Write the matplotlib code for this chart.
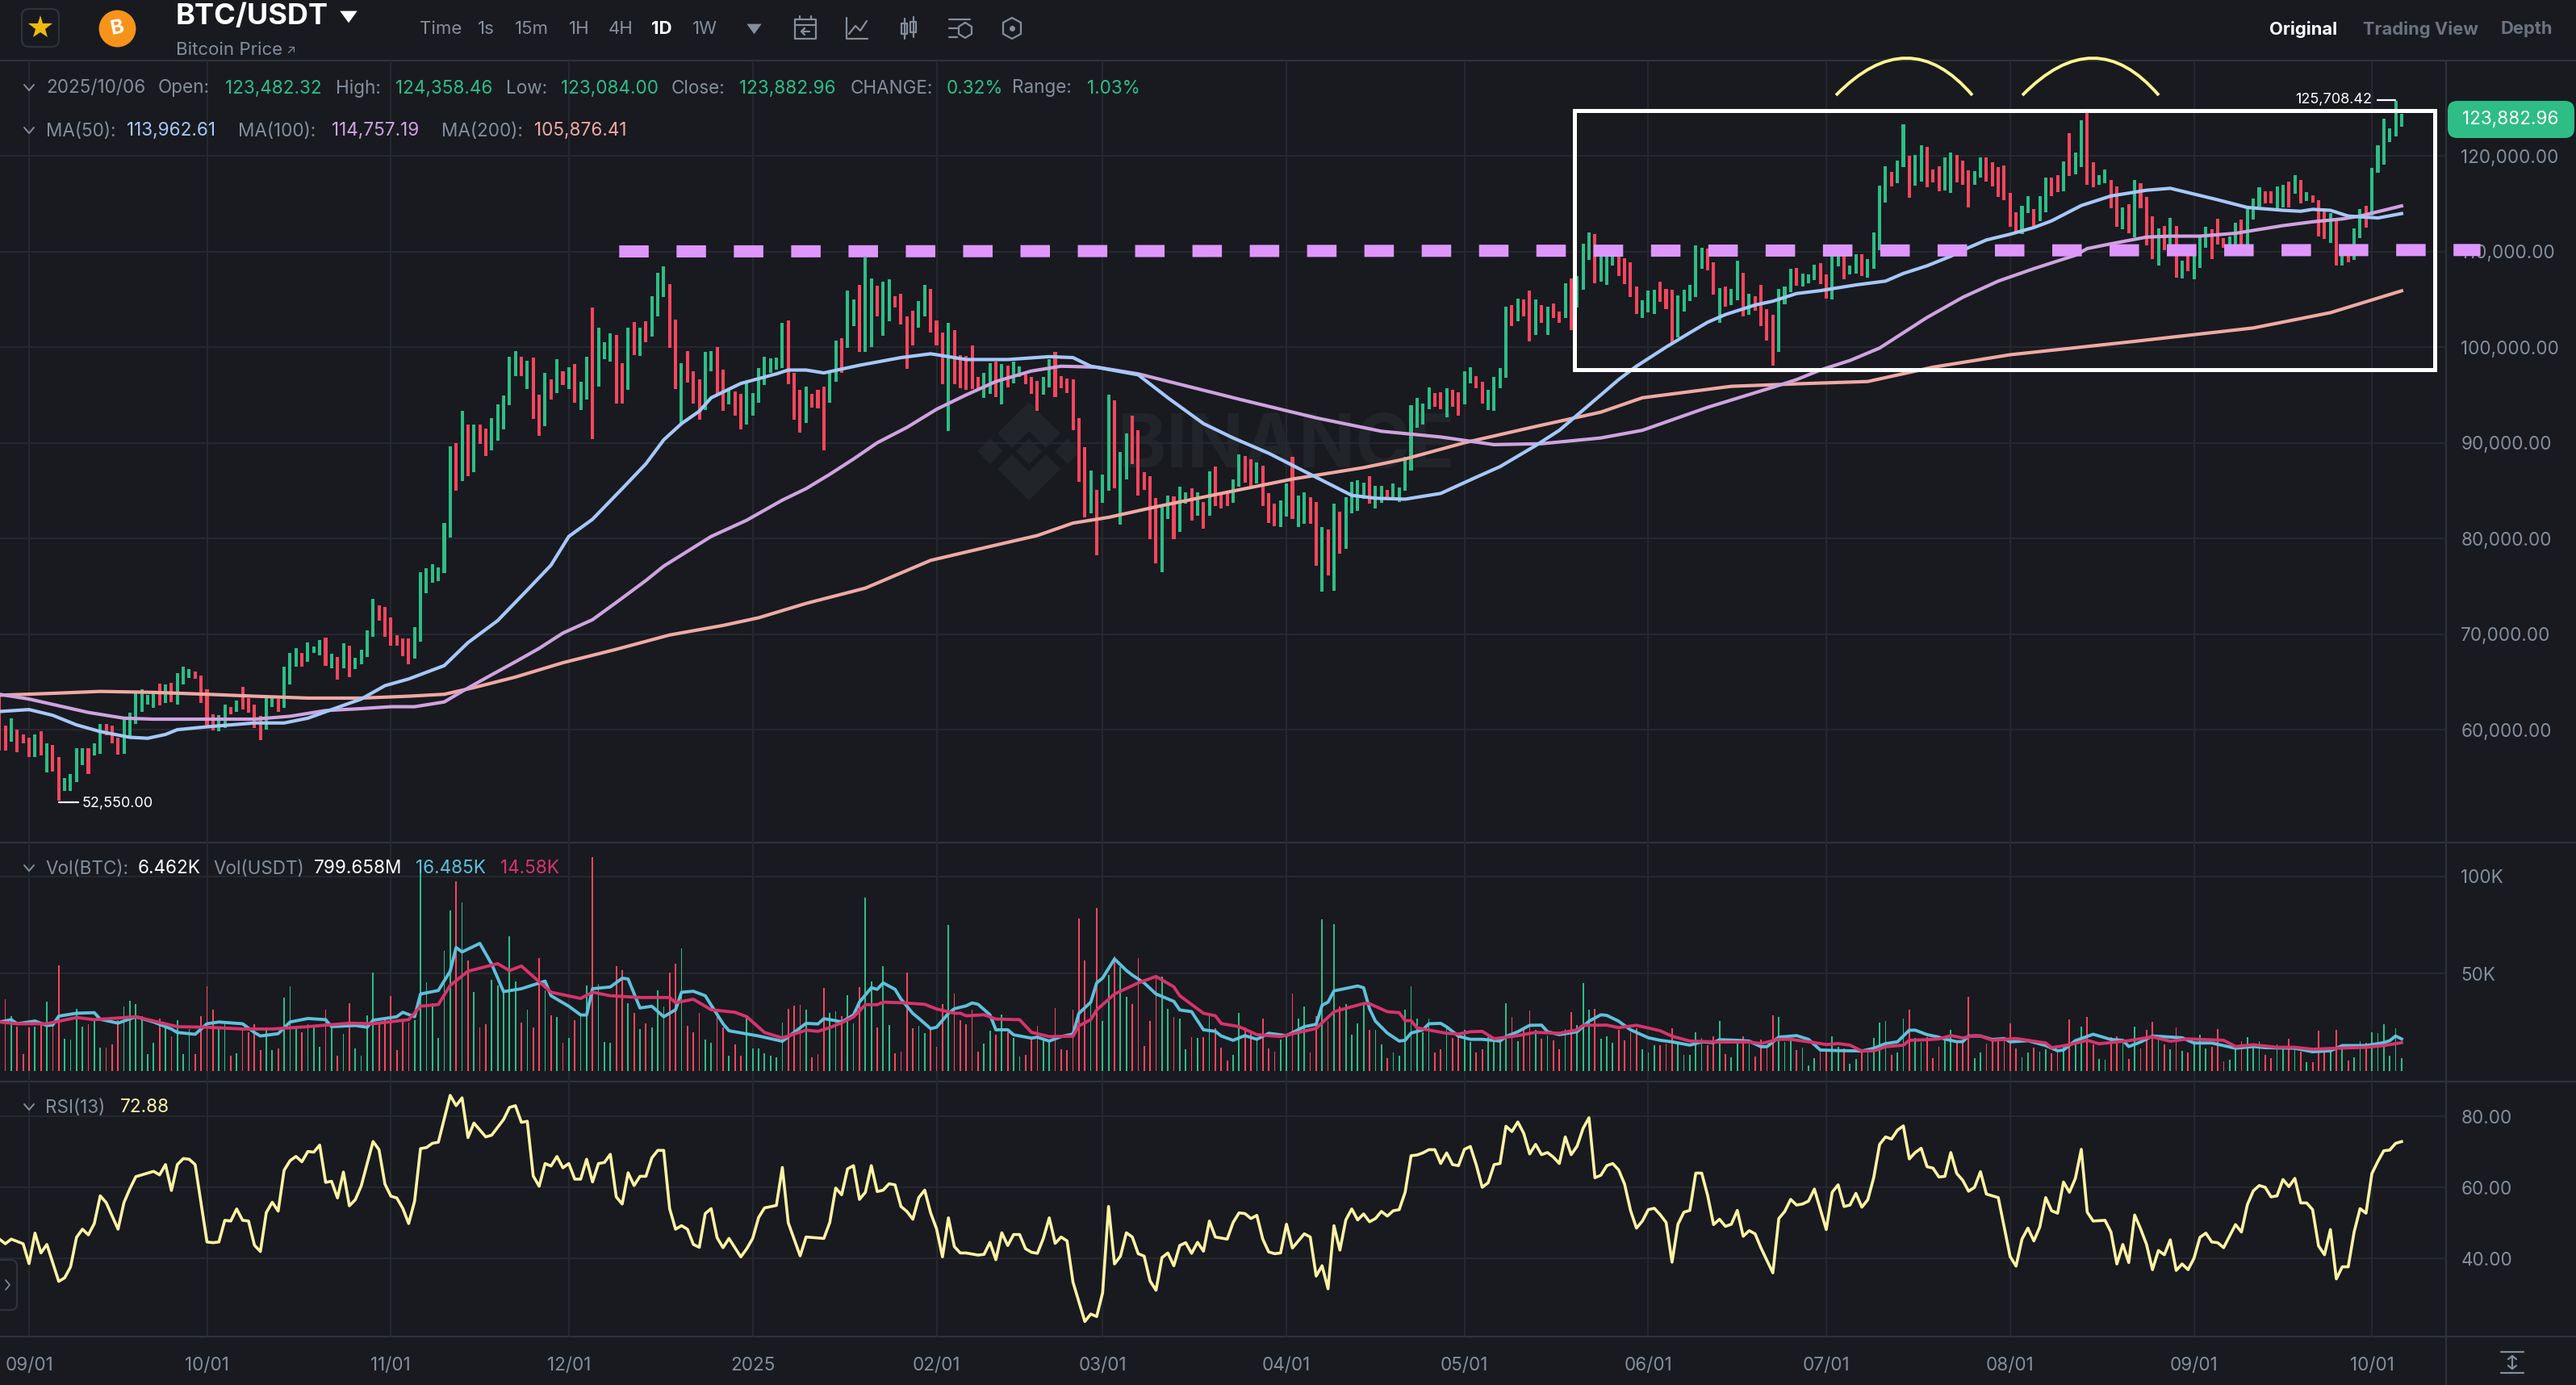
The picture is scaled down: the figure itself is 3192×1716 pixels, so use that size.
import matplotlib
matplotlib.use("Agg")
import matplotlib.pyplot as plt
from matplotlib.patches import FancyBboxPatch, PathPatch, Polygon, Rectangle
from matplotlib.path import Path

plt.rcParams['font.family'] = ['Inter', 'DejaVu Sans']
plt.rcParams['lines.scale_dashes'] = False

W, H = 3192, 1716
BG = '#181A20'
GRID = '#25282F'
SEP = '#2E323A'
GREY = '#848E9C'
GREEN = '#2EBD85'
RED = '#F6465D'
MA50_C = '#A6C8F8'
MA100_C = '#CFA3DF'
MA200_C = '#F0A9A3'
TEAL = '#5EC1DB'
VOL_RED = '#D8336B'
YELLOW = '#FFF3A3'

# day 0 = 2024/09/01, one bar per day
first_day = -5
# prices in thousands USDT, ten bars per row
price_high = [
    63.5, 60.4, 61.2, 60.0, 59.5, 59.2, 59.5, 59.8, 58.6, 58.4,
    57.1, 54.9, 55.4, 58.1, 58.1, 58.1, 58.6, 60.6, 60.6, 60.4,
    59.2, 61.3, 61.8, 63.9, 64.2, 63.6, 63.8, 64.8, 64.7, 64.9,
    65.9, 66.6, 66.3, 66.1, 65.7, 64.2, 61.6, 61.5, 62.6, 62.4,
    63.0, 64.5, 63.3, 62.6, 61.4, 63.3, 63.3, 63.2, 66.6, 68.0,
    68.5, 68.0, 69.1, 68.7, 69.4, 69.6, 67.9, 67.6, 69.0, 68.8,
    67.5, 68.4, 70.4, 73.7, 73.0, 72.8, 71.7, 69.9, 69.5, 69.5,
    70.7, 76.5, 76.9, 77.3, 76.95, 81.6, 89.6, 90.0, 93.3, 91.9,
    91.9, 91.9, 91.5, 92.6, 94.0, 94.9, 99.0, 99.6, 99.0, 98.6,
    98.9, 95.0, 97.3, 96.6, 98.7, 97.5, 97.9, 98.2, 96.4, 99.0,
    104.1, 102.0, 100.5, 101.4, 101.3, 98.3, 102.0, 102.6, 102.0, 102.7,
    105.3, 107.8, 108.4, 106.6, 102.9, 98.3, 99.6, 97.5, 96.6, 99.5,
    99.6, 100.0, 97.6, 95.7, 95.4, 95.1, 96.3, 95.2, 97.8, 99.0,
    98.8, 98.9, 102.5, 102.8, 97.3, 95.5, 95.9, 95.1, 95.5, 95.9,
    97.3, 100.7, 100.9, 105.9, 105.0, 106.5, 109.4, 107.2, 106.4, 106.8,
    107.1, 105.3, 105.6, 103.2, 103.8, 104.8, 106.5, 106.1, 102.8, 101.5,
    102.5, 101.8, 99.2, 99.1, 100.2, 96.9, 97.3, 98.3, 98.5, 98.2,
    98.1, 98.5, 98.0, 97.1, 96.9, 96.5, 96.9, 98.7, 99.5, 97.0,
    96.7, 96.6, 92.6, 89.5, 87.1, 85.1, 86.7, 95.0, 94.4, 89.0,
    91.0, 92.8, 91.3, 86.9, 86.5, 84.2, 83.4, 84.5, 84.4, 85.4,
    84.8, 85.2, 84.8, 83.8, 87.0, 87.5, 84.8, 84.8, 86.2, 88.8,
    88.6, 88.3, 87.9, 87.6, 84.7, 83.6, 84.0, 85.7, 88.5, 84.5,
    84.8, 84.3, 83.8, 81.2, 80.9, 83.6, 82.8, 84.3, 85.9, 86.1,
    85.8, 86.5, 85.5, 85.5, 85.1, 85.7, 85.3, 88.5, 93.9, 94.7,
    94.1, 95.8, 95.2, 95.3, 95.7, 95.5, 95.3, 97.5, 97.9, 97.0,
    96.4, 95.5, 96.9, 97.8, 104.2, 104.4, 105.1, 105.0, 105.9, 105.0,
    104.4, 104.2, 104.6, 103.7, 106.7, 107.2, 107.4, 110.8, 112.0, 111.8,
    110.1, 110.0, 110.0, 109.9, 109.3, 108.9, 106.3, 104.9, 105.9, 106.0,
    106.8, 106.1, 106.0, 105.4, 106.0, 106.5, 110.6, 110.4, 110.3, 108.9,
    106.2, 106.3, 106.1, 109.0, 107.8, 105.6, 105.3, 106.5, 104.0, 103.4,
    106.1, 106.3, 108.2, 108.3, 107.7, 107.6, 108.6, 108.8, 107.6, 110.1,
    110.0, 110.0, 108.5, 109.7, 109.7, 109.2, 112.0, 116.9, 118.9, 118.3,
    119.5, 123.3, 120.0, 120.1, 121.1, 120.9, 118.6, 118.9, 119.8, 120.3,
    120.1, 119.5, 118.5, 118.4, 119.8, 119.8, 119.3, 118.8, 119.0, 116.1,
    114.1, 114.8, 115.8, 114.4, 115.8, 117.7, 117.7, 118.0, 119.4, 122.4,
    120.3, 123.7, 124.5, 119.3, 118.0, 118.6, 117.5, 116.8, 114.6, 114.9,
    117.5, 117.1, 115.7, 113.7, 112.4, 112.7, 113.5, 112.7, 109.0, 109.6,
    110.0, 111.5, 112.6, 112.3, 113.4, 111.4, 111.6, 113.0, 113.3, 114.4,
    115.5, 116.7, 116.3, 116.3, 116.8, 117.0, 117.3, 118.0, 117.5, 116.2,
    115.9, 115.4, 114.4, 114.0, 113.4, 109.7, 110.1, 112.4, 114.4, 114.8,
    118.7, 121.1, 123.9, 122.9, 125.71, 124.36,
]
price_low = [
    57.8, 57.8, 58.7, 57.6, 58.6, 57.1, 57.1, 57.3, 55.5, 55.6,
    52.55, 53.6, 53.55, 54.5, 56.3, 55.4, 57.3, 57.5, 59.4, 58.6,
    57.4, 57.5, 59.2, 60.6, 61.9, 62.6, 62.3, 62.5, 62.8, 62.9,
    62.6, 64.7, 65.4, 65.3, 62.8, 60.4, 59.9, 59.8, 60.2, 61.6,
    61.9, 62.1, 61.8, 60.2, 58.9, 60.0, 62.4, 61.9, 62.3, 64.7,
    66.6, 66.6, 67.1, 68.0, 67.8, 66.7, 66.4, 65.2, 66.4, 65.5,
    66.3, 66.8, 67.6, 69.7, 71.4, 69.7, 68.8, 68.8, 67.7, 66.8,
    67.4, 69.2, 74.3, 75.4, 75.5, 76.4, 80.1, 85.0, 86.0, 86.5,
    86.9, 89.9, 88.6, 89.2, 90.2, 91.4, 93.9, 97.0, 97.0, 95.6,
    92.5, 90.7, 91.7, 94.5, 95.2, 96.0, 95.6, 94.2, 93.4, 94.5,
    90.4, 95.9, 98.7, 98.5, 94.1, 94.1, 95.5, 99.2, 99.1, 100.5,
    101.1, 103.2, 105.2, 99.9, 95.6, 92.1, 96.3, 94.1, 92.4, 93.4,
    97.5, 95.1, 93.3, 94.0, 92.8, 91.4, 91.9, 92.8, 94.2, 96.0,
    97.3, 97.6, 97.8, 96.1, 92.4, 91.1, 92.1, 93.7, 93.6, 89.2,
    94.2, 96.4, 97.3, 99.9, 102.2, 99.5, 99.5, 100.0, 103.2, 101.2,
    102.7, 104.1, 102.4, 97.7, 100.2, 102.0, 103.2, 101.5, 100.2, 96.1,
    91.2, 96.1, 95.7, 95.5, 95.6, 95.5, 94.7, 95.1, 94.8, 94.0,
    95.8, 96.2, 96.9, 96.1, 95.1, 93.3, 95.0, 95.8, 94.8, 95.7,
    95.2, 91.3, 85.9, 82.2, 82.6, 78.2, 83.7, 85.0, 85.2, 81.4,
    86.2, 87.8, 84.5, 85.1, 79.9, 77.4, 76.5, 82.0, 79.9, 80.7,
    83.6, 81.9, 82.4, 81.0, 82.4, 83.4, 83.1, 83.4, 83.7, 85.4,
    85.8, 85.5, 85.7, 83.4, 81.6, 81.3, 81.2, 82.3, 82.0, 81.2,
    81.5, 81.5, 77.1, 74.4, 76.1, 74.5, 78.4, 78.9, 82.6, 82.9,
    84.1, 83.6, 83.1, 83.7, 84.3, 84.2, 83.8, 85.0, 87.1, 91.6,
    91.9, 93.5, 93.8, 93.5, 92.7, 93.8, 92.8, 94.0, 96.2, 95.7,
    94.1, 93.4, 93.3, 95.7, 96.8, 102.2, 102.7, 103.2, 100.6, 101.3,
    102.5, 101.3, 103.0, 102.5, 103.0, 101.8, 104.1, 106.0, 109.1, 106.7,
    106.8, 106.5, 108.5, 107.4, 106.6, 105.2, 103.5, 103.0, 103.6, 103.5,
    104.7, 104.0, 100.4, 101.0, 103.7, 104.8, 105.2, 108.2, 108.0, 105.5,
    102.5, 104.2, 104.4, 104.9, 103.2, 103.4, 103.8, 102.2, 100.7, 98.1,
    99.5, 104.5, 105.7, 106.4, 106.3, 106.7, 107.0, 106.6, 105.1, 105.0,
    108.4, 107.1, 107.6, 107.7, 107.4, 107.3, 108.2, 110.1, 115.1, 116.8,
    117.1, 118.8, 115.6, 116.9, 117.3, 116.7, 117.2, 116.3, 116.4, 116.1,
    117.2, 117.0, 114.6, 117.0, 117.7, 117.3, 116.8, 115.7, 115.4, 112.6,
    112.1, 111.8, 114.0, 112.5, 113.2, 114.1, 115.8, 116.2, 116.3, 117.9,
    118.1, 118.8, 117.0, 116.7, 117.0, 117.1, 114.5, 112.6, 112.3, 111.9,
    111.5, 114.5, 110.6, 109.2, 108.5, 110.1, 110.7, 107.3, 107.2, 107.9,
    107.1, 108.3, 110.4, 109.2, 110.7, 110.4, 110.4, 110.4, 110.4, 110.4,
    113.3, 114.7, 115.0, 115.0, 114.5, 114.6, 114.6, 116.0, 115.0, 115.3,
    115.1, 111.6, 111.3, 110.9, 108.5, 108.5, 108.9, 109.1, 111.4, 112.5,
    113.8, 118.2, 119.1, 121.4, 122.0, 123.08,
]
# g = up day, r = down day
price_dir = (
    "rrgrrrgrgr" "rggggrggrr" "rggggggrgr" "gggrrrrggr"
    "grrrrggrgg" "grgggrgrgr" "ggggrrrrrr" "gggggggrgr"
    "grrgggggrg" "rrgrgrgrgg" "rgggrrgrgr" "gggrrgrrrg"
    "grrgrrgggg" "gggrrrgrrr" "ggrggrggrg" "grrrrggrrr"
    "grrrrrggrg" "rggrrrggrr" "rrrrgrggrg" "grrrrrggrg"
    "grgrgrrrgg" "rrgrrrggrg" "grrgrgrggg" "grggrggggg"
    "ggrrgrrggr" "rggggrgrrg" "rgrrgrgggr" "gggrrrrggg"
    "rrrgggggrr" "grggrgrrrr" "gggrgggrrg" "grggrggggr"
    "ggrggrrrgg" "rrrggrrrrr" "rggrggrrgr" "ggrrggrrgr"
    "grrrgrgrgr" "gggrrrggrg" "ggrrggrgrg" "rrrgrgrggr"
    "gggggg"
)
# volume in thousands BTC
volume = [
    26, 37, 28, 23, 8.5, 22.5, 23, 25, 35.6, 24,
    54.5, 16.5, 16, 32, 23, 24, 26, 12, 12, 13.5,
    26, 33, 36, 34.5, 28, 8.5, 14.4, 27, 22.5, 18,
    26, 8.5, 21.6, 8.5, 28, 43.7, 31.5, 22.5, 25, 8,
    9, 22.5, 19.8, 24, 10.8, 21.6, 10.8, 11.7, 37.8, 43.7,
    22.5, 19.8, 24, 22.5, 12.6, 31.5, 22.5, 8, 18.9, 34.7,
    11.7, 8, 28.8, 50.4, 24.3, 27.9, 38.7, 10.8, 26, 25,
    26, 103.4, 45.5, 35, 17, 62, 82.7, 97.5, 86.9, 56.7,
    40.5, 22.5, 23.9, 46.8, 44, 40.5, 69.2, 46.2, 25, 31.5,
    22.5, 58, 41.4, 28.8, 27.9, 14.4, 17, 26, 29.7, 44,
    110, 45, 15, 14.4, 54, 51.8, 35, 29.7, 21.6, 24.3,
    22.5, 41.4, 33.3, 50.4, 55.2, 63, 23.4, 19.8, 29.7, 16.2,
    14.4, 27.9, 22.5, 8, 13.5, 8, 27.9, 11.7, 11.7, 9,
    8, 7.2, 25, 32, 33.6, 34.2, 31.5, 7.1, 8.7, 42.8,
    30, 30.5, 28, 39, 24.4, 43.3, 89.3, 46, 22.3, 54,
    23.6, 9.2, 10, 50.6, 22, 23.2, 19.4, 21.5, 12.3, 34.6,
    75.2, 40, 26, 24, 31.7, 10, 14.1, 20.7, 18.7, 29,
    19.8, 17.2, 7.4, 8.4, 16.6, 23.1, 16.6, 15.8, 32.2, 11,
    10.8, 31.7, 78.2, 56.8, 37.9, 83.6, 25.6, 49.4, 58.9, 53.5,
    38.2, 34.3, 58, 12.8, 25.9, 48.6, 48.6, 31.8, 27.6, 27,
    11, 17.4, 17, 17.4, 28, 22, 12, 5.4, 8.4, 30,
    22.6, 19.9, 17.4, 27, 11.6, 10, 16, 19, 40, 27,
    33, 9.5, 28, 78, 25.6, 75.3, 33, 34.6, 18.7, 24.5,
    35, 21, 21, 13.8, 6.6, 9.5, 7.9, 31.7, 43.7, 27,
    19.9, 27, 9.5, 11.2, 22, 17, 17.4, 21.2, 15, 9.7,
    11.2, 17.4, 16.6, 15, 34.9, 27.6, 15.4, 22, 31.2, 21,
    16.6, 18.2, 15.8, 11.2, 21.5, 30.2, 23.6, 45.3, 31.7, 32,
    16.6, 17.7, 14.6, 21.2, 15.8, 19.9, 22, 11.2, 9.5, 13.3,
    13.3, 14.1, 22, 14.1, 8.4, 8.4, 19.9, 17.1, 13.3, 17.7,
    25.9, 8.7, 7, 14.1, 17.9, 14.1, 7.6, 16.3, 11.7, 28.6,
    27.6, 15, 16.6, 10.8, 12.2, 3, 6.7, 10, 10.8, 17.7,
    12.5, 11.7, 3.6, 6.4, 10.8, 10.8, 17, 24.8, 25.6, 8.4,
    9.5, 27, 31.7, 17, 15, 17.4, 6.7, 12.6, 16.7, 21,
    14.4, 14.4, 38.3, 6.8, 9.4, 14, 17.1, 16.2, 17.1, 24.3,
    11.7, 7.2, 9.5, 12, 9.9, 11.2, 9, 9.9, 13.5, 26.5,
    16.2, 23, 27.9, 13.5, 6.3, 5.9, 17.4, 18, 14.4, 6.3,
    23, 11.7, 21, 25.2, 16.2, 13.5, 11.2, 22.5, 10.3, 9.5,
    15.3, 18.5, 11.7, 12.6, 21.6, 4.9, 5.8, 11.7, 15.3, 17.4,
    13.5, 15.3, 8.1, 6.6, 13.5, 11.7, 16.7, 12.2, 9.9, 4.5,
    4.5, 20.7, 10.8, 9.9, 21.1, 13.5, 5.4, 7.2, 15.3, 14.4,
    20.1, 19.4, 23.9, 8, 21.9, 6.46,
]

# moving averages of price, thousands USDT, read at these days
ma50_days = [-5, 0, 4, 8, 12, 17, 20, 23, 25, 30, 34, 38, 43, 47, 51, 56, 60, 64, 70, 74, 79,
             84, 88, 91, 95, 100, 104, 107, 110, 113, 115, 120, 123, 126, 128, 131, 134, 140,
             147, 152, 158, 165, 172, 176, 179, 187, 192, 198, 203, 209, 216, 223, 227, 232,
             238, 244, 248, 254, 258, 265, 268, 271, 276, 280, 283, 286, 291, 294, 298, 302,
             308, 313, 316, 320, 324, 327, 330, 334, 338, 341, 346, 351, 357, 361, 365, 369,
             374, 380, 383, 385, 388, 391, 396, 400]
ma50 = [61.9, 62.1, 61.5, 60.5, 59.8, 59.2, 59.1, 59.5, 60.0, 60.3, 60.5, 60.7, 60.7, 61.2, 62.1,
        63.2, 64.6, 65.3, 66.7, 69.1, 71.4, 74.6, 77.2, 80.2, 82.0, 85.2, 87.8, 90.3, 92.0, 93.3,
        94.7, 96.2, 96.7, 97.2, 97.6, 97.6, 97.3, 98.1, 98.9, 99.3, 98.7, 98.7, 99.0, 98.9, 98.0,
        97.1, 94.7, 92.0, 90.5, 88.9, 86.7, 84.5, 84.2, 84.1, 84.7, 86.4, 87.5, 89.7, 91.3, 95.0,
        96.6, 98.0, 100.0, 101.5, 102.6, 103.4, 104.4, 104.8, 105.6, 105.9, 106.5, 106.9, 107.7,
        108.5, 109.5, 110.4, 111.2, 111.8, 112.5, 113.2, 114.8, 115.8, 116.4, 116.6, 116.0, 115.4,
        114.6, 114.3, 114.2, 114.4, 114.3, 113.7, 113.5, 113.96]
ma100_days = [-5, 0, 5, 10, 16, 21, 30, 38, 44, 50, 56, 61, 65, 70, 73, 77, 82, 86, 90, 95, 99,
              104, 107, 115, 121, 127, 131, 135, 139, 143, 148, 153, 158, 163, 169, 174, 180, 187,
              196, 205, 217, 228, 233, 238, 247, 255, 265, 272, 283, 294, 298, 302, 307, 312, 316,
              320, 324, 326, 332, 338, 345, 347, 351, 357, 361, 366, 372, 375, 380, 385, 390, 393, 400]
ma100 = [63.7, 63.2, 62.5, 61.8, 61.2, 61.1, 61.1, 61.1, 61.4, 62.0, 62.2, 62.4, 62.4, 62.9, 64.0,
         65.4, 67.1, 68.5, 70.1, 71.5, 73.3, 75.6, 77.1, 80.2, 81.9, 84.0, 85.2, 86.7, 88.3, 90.0,
         91.6, 93.5, 95.0, 96.4, 97.5, 98.0, 97.9, 97.2, 95.8, 94.4, 92.6, 91.2, 90.9, 90.6, 89.8,
         89.9, 90.5, 91.3, 93.7, 95.8, 96.6, 97.6, 98.6, 99.9, 101.5, 103.1, 104.5, 105.2, 106.9,
         108.2, 109.6, 110.3, 110.8, 111.5, 111.6, 111.6, 111.9, 112.2, 112.7, 113.1, 113.4, 113.7,
         114.76]
ma200_days = [-5, 4, 12, 21, 30, 38, 47, 56, 64, 70, 75, 82, 90, 99, 108, 117, 123, 131, 141, 152,
              163, 170, 176, 182, 190, 201, 213, 225, 232, 242, 254, 265, 272, 287, 300, 310, 321,
              334, 355, 375, 388, 400]
ma200 = [63.6, 63.8, 64.0, 63.9, 63.7, 63.5, 63.3, 63.3, 63.5, 63.7, 64.4, 65.5, 67.0, 68.4, 69.9,
         70.9, 71.7, 73.2, 74.8, 77.7, 79.3, 80.3, 81.6, 82.2, 83.3, 84.7, 86.2, 87.4, 88.3, 90.0,
         91.7, 93.2, 94.7, 95.9, 96.2, 96.4, 97.9, 99.2, 100.6, 102.0, 103.6, 105.88]

# volume moving averages, thousands BTC
vol_fast_days = [-5, -3, -2, 1, 3, 4, 5, 8, 11, 12, 15, 18, 21, 24, 25, 28, 30, 32, 36, 38, 39, 42,
                 44, 47, 50, 51, 55, 57, 58, 62, 63, 65, 66, 69, 71, 72, 73, 76, 78, 80, 83, 87,
                 88, 91, 93, 94, 95, 98, 100, 101, 103, 105, 107, 109, 110, 112, 114, 117, 118,
                 123, 127, 131, 133, 134, 136, 137, 139, 140, 142, 143, 144, 146, 147, 149, 150,
                 152, 153, 155, 156, 158, 159, 160, 162, 163, 165, 166, 169, 170, 172, 174, 176,
                 177, 179, 180, 181, 183, 185, 186, 188, 190, 193, 194, 196, 198, 200, 201, 203,
                 205, 207, 209, 212, 215, 217, 218, 219, 220, 224, 225, 226, 227, 229, 231, 232,
                 233, 235, 236, 238, 239, 241, 243, 245, 248, 249, 251, 253, 255, 256, 258, 261,
                 263, 265, 266, 268, 270, 273, 275, 277, 280, 282, 284, 285, 288, 290, 292, 293,
                 295, 298, 300, 302, 305, 309, 311, 313, 315, 317, 318, 320, 322, 323, 325, 326,
                 327, 329, 331, 333, 334, 337, 340, 342, 343, 345, 348, 351, 353, 354, 356, 358,
                 363, 365, 368, 372, 375, 377, 382, 385, 388, 390, 394, 397, 398, 399, 400]
vol_fast = [25.2, 26.4, 24.3, 25.7, 23.4, 23.7, 28.2, 29.7, 30, 26.6, 24.6, 27.9, 25.2, 21.6, 19.8,
            18.9, 24.3, 25.2, 24.3, 19.8, 18, 19.2, 25.2, 27, 26.4, 22.8, 23.4, 22.5, 26.1, 27.9,
            30.2, 27.9, 39.6, 41.4, 51.3, 63.5, 61.2, 65.6, 54.9, 40.8, 42.3, 46.2, 38.7, 33.3,
            28.8, 28.8, 42.3, 43.2, 47.7, 47.3, 32.4, 33.3, 27.9, 31.5, 40.5, 41, 38.7, 24.3, 20.7,
            18, 15.3, 24.5, 24.2, 26.9, 25.9, 25.2, 28.8, 35.4, 42.8, 42, 45.3, 42, 37, 29.6, 27.1,
            21.8, 22.5, 29.6, 32, 33.5, 35, 34.3, 28.9, 21.2, 21.2, 18.6, 16.9, 17.4, 15.4, 17.7,
            19, 29.6, 35.4, 45.3, 47.8, 57.6, 51.7, 49.3, 45.3, 39.6, 35.8, 31.4, 30.5, 21.2, 20.4,
            18, 15.8, 18.2, 16.3, 19.4, 18.2, 22.8, 24, 33.8, 35.4, 41.2, 43.7, 42.8, 32, 25.6,
            19.5, 15.4, 15.8, 19.5, 21.2, 24.3, 24.5, 22.7, 17.9, 16.3, 16.3, 15.4, 17.7, 20.2,
            23.5, 23.6, 20.2, 18.7, 20.2, 25.6, 28.9, 28.6, 25.6, 21.2, 17.1, 15.8, 15, 13.3, 15,
            14.6, 16.1, 15.8, 15.4, 12.5, 12.5, 17.4, 18.2, 16.3, 10.8, 10.5, 10.3, 11.7, 14.1, 15,
            21, 21, 18.7, 17.4, 16.4, 15.1, 15.1, 18, 18, 16.2, 16.7, 15, 15.6, 13.1, 10.4, 10.8,
            15.6, 18.9, 16.2, 15.8, 12.6, 14.9, 18, 17.1, 14.4, 14.4, 11.7, 12.6, 12, 11.7, 9.9,
            10.4, 13.1, 13.1, 14.6, 15.6, 18, 16.485]
vol_slow_days = [-5, -2, 3, 8, 11, 18, 21, 25, 30, 36, 41, 47, 54, 58, 64, 66, 69, 71, 74, 79, 81,
                 83, 86, 88, 93, 95, 98, 103, 108, 109, 112, 115, 119, 121, 124, 127, 131, 133,
                 135, 137, 139, 141, 143, 144, 147, 151, 153, 156, 157, 158, 161, 163, 167, 169,
                 172, 176, 177, 179, 180, 183, 187, 190, 193, 194, 198, 200, 201, 204, 207, 211,
                 217, 220, 222, 225, 226, 229, 231, 232, 233, 234, 239, 241, 243, 245, 247, 251,
                 254, 258, 261, 262, 266, 268, 271, 275, 277, 280, 285, 290, 292, 295, 297, 301,
                 303, 305, 307, 309, 311, 313, 316, 317, 320, 322, 324, 326, 328, 329, 331, 335,
                 340, 341, 344, 347, 349, 354, 358, 361, 364, 370, 372, 375, 379, 382, 385, 389,
                 394, 397, 400]
vol_slow = [25.2, 24.3, 24.3, 27.5, 26.4, 27.9, 25.7, 22.8, 22.5, 21.6, 21.6, 22.8, 24.6, 24.3,
            26.4, 33.3, 34.2, 44, 51.3, 55.2, 51.6, 54, 45.9, 40.5, 37.3, 40.5, 38.7, 37.8, 37.8,
            35.1, 36.9, 31.5, 30.2, 27.9, 19.8, 17, 21, 20.4, 22.3, 24.8, 27.8, 34.1, 34.1, 35.4,
            35.1, 34.3, 31.9, 29.7, 29.7, 28.4, 28.9, 26.7, 26.4, 19.9, 17.7, 17.9, 23.2, 26.4,
            31.4, 39.6, 45.3, 48.6, 43.3, 38.7, 29.7, 28.4, 24.4, 22.8, 18.7, 17.7, 21.9, 30.5,
            32.2, 34.7, 34.6, 30.5, 30, 25.9, 25.9, 22.2, 19.4, 19, 20.2, 20.4, 16.6, 18.2, 19.9,
            19.4, 21.2, 23.5, 23.6, 22.3, 23.5, 20.7, 17.9, 15.4, 14.9, 14.9, 14.1, 16.3, 16.3,
            14.6, 13.6, 14.1, 13.3, 10.3, 10.3, 12.5, 13.3, 15.8, 16.1, 16.5, 18.2, 17, 18.2, 18,
            15.8, 16.7, 14.4, 12, 13.5, 15.8, 14, 15.6, 17.6, 15.3, 16.5, 15.8, 12.6, 13.5, 12.2,
            12.2, 11.2, 11.7, 12.2, 13.1, 14.58]

rsi_days = [-5, -4, -3, -1, 0, 1, 2, 3, 5, 6, 7, 8, 9, 10, 11, 12, 13, 15, 16, 17, 18, 21, 22, 23,
            24, 25, 26, 27, 28, 30, 31, 32, 33, 34, 35, 36, 37, 38, 39, 40, 41, 42, 43, 44, 45, 46,
            47, 48, 49, 50, 51, 52, 53, 54, 55, 56, 58, 59, 60, 61, 62, 63, 64, 65, 66, 67, 68, 69,
            71, 72, 73, 74, 75, 77, 78, 80, 81, 82, 83, 84, 85, 86, 87, 88, 89, 90, 91, 92, 93, 94,
            95, 96, 97, 98, 99, 100, 101, 102, 103, 104, 105, 106, 107, 108, 109, 110, 111, 112,
            113, 114, 115, 116, 117, 118, 120, 121, 122, 123, 124, 126, 127, 128, 130, 131,
            134, 135, 136, 137, 138, 139, 140, 141, 142, 143, 144, 145, 146, 147, 148, 149, 150,
            151, 152, 153, 154, 155, 156, 157, 158, 160, 161, 162, 163, 164, 165, 166, 167, 168,
            169, 170, 171, 172, 173, 174, 175, 176, 178, 179, 180, 181, 182, 183, 184, 185, 186,
            187, 188, 189, 190, 191, 192, 193, 194, 195, 196, 197, 198, 199, 200, 202, 203, 204,
            205, 206, 207, 208, 209, 210, 211, 212, 213, 214, 215, 216, 217, 218, 219, 220, 221,
            222, 223, 224, 225, 226, 227, 228, 229, 230, 231, 232, 233, 234, 235, 236, 237, 238,
            239, 240, 241, 242, 243, 244, 245, 246, 247, 248, 249, 250, 251, 252, 253, 254, 255,
            256, 257, 258, 259, 260, 261, 262, 263, 264, 265, 266, 267, 268, 269, 270, 271, 272,
            273, 274, 275, 276, 277, 278, 279, 280, 281, 282, 283, 284, 285, 286, 287, 288, 289,
            290, 291, 292, 294, 295, 296, 297, 298, 299, 300, 301, 303, 304, 305, 306, 307, 308,
            309, 310, 311, 312, 313, 314, 315, 316, 317, 318, 319, 320, 321, 322, 323, 324, 325,
            326, 327, 328, 329, 330, 332, 334, 335, 336, 337, 338, 339, 340, 341, 342, 343, 344,
            345, 346, 347, 348, 350, 351, 352, 353, 354, 355, 356, 357, 358, 359, 360, 361, 362,
            363, 364, 365, 366, 367, 368, 369, 370, 372, 373, 374, 375, 376, 377, 378, 379, 380,
            381, 382, 383, 384, 385, 386, 387, 388, 389, 390, 391, 392, 393, 394, 395, 396, 397,
            398, 399, 400]
rsi = [45.4, 44.1, 45.4, 44.1, 38.5, 47.1, 41.5, 43.9, 33.5, 34.5, 37.6, 45.9, 48.2, 46.6, 49.8,
       57.6, 55.7, 48.2, 55.7, 59.6, 63, 64.5, 63.5, 66.4, 59.1, 66.4, 68.1, 67.9, 66.4, 44.6, 44.4,
       44.6, 50.7, 50.5, 53.9, 50.7, 50.5, 43.7, 41.9, 52.9, 55.8, 53.3, 64.8, 67.5, 68.7, 67.2,
       70.1, 69.9, 71.9, 61.4, 61.7, 57, 64.3, 54.8, 56.5, 60.4, 72.9, 70.6, 60.9, 57.5, 57, 54.1,
       49.8, 56.1, 70.9, 71.2, 72.4, 72.7, 85.9, 83, 85.2, 74, 78.1, 74.2, 74.7, 79.1, 82.5, 83, 78.3,
       78.6, 63.2, 60.3, 66.7, 66, 68.7, 65.5, 66.7, 62.3, 62.3, 67.9, 61.5, 66.7, 67, 69.3, 57.3,
       55.3, 64.1, 60.5, 63.1, 63.1, 68.3, 70.4, 70.4, 54, 48.2, 49.2, 48.2, 43.9, 43.1, 52.6, 54,
       45.8, 43, 45.6, 40.4, 42.7, 45.6, 51.5, 54.2, 54.9, 65.6, 50, 40.7, 46,
       45.6, 50.1, 59.8, 57.9, 65.2, 66.1, 56.6, 58.6, 66.1, 58.8, 59.2, 61, 60.7, 54.6, 53.2, 51,
       57.1, 59.2, 52.8, 48.3, 40.4, 51.4, 43.3, 41.5, 41.5, 40.9, 41.1, 44.5, 39.6, 47.2, 43.6,
       46.7, 46.7, 42.7, 41.7, 41.4, 45.6, 51.4, 44.2, 46, 44.9, 33.3, 22.2, 24.3, 23.6, 30.3, 54.6,
       38.4, 40.6, 47.2, 46, 41.3, 40.6, 33.6, 31, 40.2, 41.5, 37.9, 43.6, 44.4, 41.4, 44.5, 42,
       50.5, 46, 45.4, 50.1, 52.8, 52.6, 51.2, 52.1, 45.4, 41.8, 41.3, 41.5, 49.6, 42.9, 44.9, 46.9,
       46, 35, 37.9, 31.4, 49.2, 42.3, 50.8, 53.9, 50.8, 52.5, 50.3, 51.2, 53.2, 51.9, 53.4, 53.7,
       58.6, 68.9, 69.1, 69.7, 70.6, 70.6, 66.7, 69.7, 66.4, 66.1, 70.7, 71.5, 66.3, 60, 61.3, 66.4,
       66.7, 77.2, 75.7, 78.4, 75.2, 69.4, 72.1, 69.2, 69.8, 68.5, 66.7, 74.2, 69.2, 71.6, 76.6,
       79.6, 62.7, 63.4, 66.1, 66.7, 64.9, 60.9, 53.5, 48.5, 50.5, 53.7, 54.1, 52.3, 50.1, 38.9,
       49.6, 53, 53.5, 64, 64, 57.7, 49.5, 51, 49, 49.6, 53.5, 46.2, 47.8, 46.9, 42.9, 35.9, 51.2,
       53.2, 56.6, 55, 55.3, 56.1, 59.5, 48.1, 58.6, 60.7, 54.6, 55, 58.3, 54.4, 56.5, 62.7, 72.1,
       74.2, 73.6, 76.1, 77.3, 68, 69.8, 71, 65.8, 65.4, 62.9, 63.1, 69.8, 63.9, 62, 58.9, 60, 64.4,
       58.1, 57.1, 40.5, 37.8, 45.4, 48.5, 44.9, 48.8, 57.1, 53.4, 52.7, 61.5, 58.6, 62.5, 70.7, 53,
       50.5, 50.7, 47.4, 38.4, 43.9, 38.8, 52.2, 48.3, 43.9, 36.8, 42.2, 41, 45.2, 36.6, 38.4, 36.8,
       40, 45.9, 47.1, 44.6, 44.4, 43, 49.5, 47.4, 55.1, 59, 60.5, 60, 57.3, 57.6, 62.2, 60.2, 62.5,
       55.6, 55.6, 53.7, 43.5, 41, 48.1, 34.2, 37.6, 37.6, 47.4, 54, 52.7, 63.9, 67.3, 70.3, 70.5,
       72.4, 72.88]

price_ticks = [60, 70, 80, 90, 100, 110, 120]
vol_ticks = [50, 100]
rsi_ticks = [40, 60, 80]
date_days = [0, 30, 61, 91, 122, 153, 181, 212, 242, 273, 303, 334, 365, 395]
date_labels = ['09/01', '10/01', '11/01', '12/01', '2025', '02/01', '03/01', '04/01', '05/01',
               '06/01', '07/01', '08/01', '09/01', '10/01']

# drawn over the chart by hand in the screenshot
level_days = [99.5, 413.3]
level_prices = [110.0, 110.15]
box_days = [260.6, 405.6]
box_prices = [97.6, 124.77]
last_close = 123882.96

assert len(price_high) == len(price_low) == len(price_dir) == len(volume)
assert len(ma50_days) == len(ma50) and len(ma100_days) == len(ma100) and len(ma200_days) == len(ma200)
assert len(vol_fast_days) == len(vol_fast) and len(vol_slow_days) == len(vol_slow)
assert len(rsi_days) == len(rsi)

days = [first_day + i for i in range(len(price_high))]
bar_colors = [GREEN if d == 'g' else RED for d in price_dir]

fig = plt.figure(figsize=(W / 200, H / 200), dpi=200, facecolor=BG)


def pixel_axes(zorder):
    ax = fig.add_axes([0, 0, 1, 1], zorder=zorder)
    ax.set_xlim(0, W)
    ax.set_ylim(H, 0)
    ax.axis('off')
    return ax


def pane(top, bottom, ylim, ticks, labels):
    ax = fig.add_axes([0, 1 - bottom / H, 3031 / W, (bottom - top) / H], zorder=5)
    ax.patch.set_alpha(0)
    ax.set_xlim(-4.9, 407.5)
    ax.set_ylim(*ylim)
    for s in ax.spines.values():
        s.set_visible(False)
    ax.yaxis.tick_right()
    ax.set_yticks(ticks)
    ax.set_yticklabels(labels, va='center_baseline')
    ax.set_xticks(date_days)
    ax.set_xticklabels([])
    ax.tick_params(axis='both', length=0)
    ax.tick_params(axis='y', pad=6.6, labelsize=8.1, labelcolor=GREY)
    ax.grid(True, color=GRID, linewidth=0.75)
    ax.set_axisbelow(True)
    return ax


under = pixel_axes(0)
over = pixel_axes(10)

ax_price = pane(75, 1044, (48.19, 129.96), price_ticks, [f'{t * 1000:,.2f}' for t in price_ticks])
ax_vol = pane(1044, 1340, (-5.4, 117.4), vol_ticks, [f'{t}K' for t in vol_ticks])
ax_rsi = pane(1340, 1656, (17.95, 89.8), rsi_ticks, [f'{t:.2f}' for t in rsi_ticks])
ax_rsi.set_xticklabels(date_labels)
ax_rsi.tick_params(axis='x', pad=9, labelsize=8.1, labelcolor=GREY)

# panes
ax_price.bar(days, [h - l for h, l in zip(price_high, price_low)], bottom=price_low, width=0.55,
             color=bar_colors, linewidth=0)
ax_price.plot(ma200_days, ma200, color=MA200_C, lw=1.5)
ax_price.plot(ma100_days, ma100, color=MA100_C, lw=1.5)
ax_price.plot(ma50_days, ma50, color=MA50_C, lw=1.5)

ax_vol.bar(days, volume, width=0.24, color=bar_colors, linewidth=0)
ax_vol.plot(vol_fast_days, vol_fast, color=TEAL, lw=1.4)
ax_vol.plot(vol_slow_days, vol_slow, color=VOL_RED, lw=1.4)

ax_rsi.plot(rsi_days, rsi, color=YELLOW, lw=1.3)

# hand drawn marks
ax_price.plot(level_days, level_prices, color='#DF96FC', lw=5.4, linestyle=(0, (13.15, 12.42)),
              dash_capstyle='butt', clip_on=False, zorder=6)
ax_price.add_patch(Rectangle((box_days[0], box_prices[0]), box_days[1] - box_days[0],
                             box_prices[1] - box_prices[0], fill=False, edgecolor='white',
                             linewidth=1.8, clip_on=False, zorder=7))

# frame lines
for y in (75, 1044, 1340, 1656):
    under.plot([0, W], [y, y], color=SEP, lw=0.8)
under.plot([3031, 3031], [75, H], color=SEP, lw=0.8)

# watermark
wm = '#212429'
under.add_patch(Polygon([(1275, 500), (1312, 537), (1296, 553), (1275, 532), (1254, 553), (1238, 537)], color=wm))
under.add_patch(Polygon([(1275, 618), (1312, 581), (1296, 565), (1275, 586), (1254, 565), (1238, 581)], color=wm))
under.add_patch(Polygon([(1275, 545), (1289, 559), (1275, 573), (1261, 559)], color=wm))
under.add_patch(Polygon([(1227, 545), (1241, 559), (1227, 573), (1213, 559)], color=wm))
under.add_patch(Polygon([(1323, 545), (1337, 559), (1323, 573), (1309, 559)], color=wm))
under.text(1594, 555, 'BINANCE', fontsize=33, fontweight='bold', color=wm, ha='center', va='center')


def label(x, y, s, color=GREY, size=8.1, weight='normal', ha='left'):
    over.text(x, y + 1.5, s, color=color, fontsize=size, fontweight=weight, ha=ha, va='center')


def stroke(xs, ys, color=GREY, lw=0.8):
    over.plot(xs, ys, color=color, lw=lw, solid_capstyle='round')


def caret(x, y):
    stroke([x - 6, x, x + 6], [y - 3, y + 4, y - 3], lw=0.7)


# top bar
over.add_patch(FancyBboxPatch((27, 11), 46, 47, boxstyle='round,pad=0,rounding_size=9', fill=False,
                              edgecolor=SEP, linewidth=0.8))
over.plot([50], [34], marker='*', color='#F0B90B', markersize=11, markeredgewidth=0)
over.plot([145], [35], marker='o', color='#F7931A', markersize=16.5, markeredgewidth=0)
over.text(145, 35, 'B', color='white', fontsize=9, fontweight='bold', ha='center', va='center', rotation=12)
label(218, 19, 'BTC/USDT', 'white', 13, 'bold')
over.add_patch(Polygon([(424, 15), (440, 15), (432, 26)], color='white'))
label(218, 60, 'Bitcoin Price', size=8)
label(354, 60, '↗', size=5.5)
for x, s in zip((520, 592, 638, 705, 754, 807, 858), ('Time', '1s', '15m', '1H', '4H', '1D', '1W')):
    label(x, 35, s, 'white' if s == '1D' else GREY, 8, 'bold' if s == '1D' else 'normal')
over.add_patch(Polygon([(928, 31), (941, 31), (934.5, 40)], color=GREY))

# toolbar icons
stroke([985, 1011, 1011, 985, 985], [24, 24, 48, 48, 24])
stroke([985, 1011], [31, 31])
stroke([991, 991], [20, 24])
stroke([1005, 1005], [20, 24])
stroke([1003, 993, 997, 993, 997], [39, 39, 35, 39, 43])
stroke([1049, 1049, 1075], [22, 48, 48])
stroke([1052, 1060, 1066, 1074], [42, 32, 38, 26])
stroke([1117, 1117, 1124, 1124, 1117], [29, 42, 42, 29, 29])
stroke([1128, 1128, 1135, 1135, 1128], [27, 40, 40, 27, 27])
stroke([1120.5, 1120.5], [23, 48])
stroke([1131.5, 1131.5], [21, 46])
stroke([1176, 1202], [24, 24])
stroke([1176, 1186], [35, 35])
stroke([1176, 1186], [46, 46])
stroke([1196, 1204, 1204, 1196, 1188, 1188, 1196], [28, 33, 42, 47, 42, 33, 28])
stroke([1254, 1265, 1265, 1254, 1243, 1243, 1254], [22, 28, 42, 48, 42, 28, 22])
over.plot([1254], [35], marker='o', color=GREY, markersize=2.5, markeredgewidth=0)

label(2812, 35, 'Original', 'white', 7.9, 'bold')
label(2928, 35, 'Trading View', '#6B7380', 7.9, 'bold')
label(3099, 35, 'Depth', '#6B7380', 7.9, 'bold')

# legend rows
caret(36, 108)
row = [(57, '2025/10/06', GREY), (196, 'Open:', GREY), (279, '123,482.32', GREEN), (416, 'High:', GREY),
       (490, '124,358.46', GREEN), (627, 'Low:', GREY), (695, '123,084.00', GREEN), (832, 'Close:', GREY),
       (916, '123,882.96', GREEN), (1054, 'CHANGE:', GREY), (1173, '0.32%', GREEN), (1254, 'Range:', GREY),
       (1347, '1.03%', GREEN)]
for x, s, c in row:
    label(x, 108, s, c)
caret(36, 161)
row = [(57, 'MA(50):', GREY), (157, '113,962.61', MA50_C), (295, 'MA(100):', GREY), (411, '114,757.19', MA100_C),
       (547, 'MA(200):', GREY), (662, '105,876.41', MA200_C)]
for x, s, c in row:
    label(x, 161, s, c)
caret(36, 1075)
row = [(56, 'Vol(BTC):', GREY), (171, '6.462K', 'white'), (264, 'Vol(USDT)', GREY), (389, '799.658M', 'white'),
       (515, '16.485K', TEAL), (620, '14.58K', VOL_RED)]
for x, s, c in row:
    label(x, 1075, s, c)
caret(36, 1371)
label(56, 1371, 'RSI(13)')
label(149, 1371, '72.88', YELLOW)

# high and low callouts
stroke([2946, 2968], [124, 124], 'white', 0.8)
label(2939, 122, '125,708.42', 'white', 6.5, ha='right')
stroke([73, 97], [994, 994], 'white', 0.8)
label(102, 994, '52,550.00', 'white', 6.5)

# last price tag
over.add_patch(FancyBboxPatch((3033, 125), 157, 46, boxstyle='round,pad=0,rounding_size=12', color=GREEN, linewidth=0))
label(3111, 147, f'{last_close:,.2f}', 'white', ha='center')

# yellow arcs above the box
for x0, xp, x1 in ((2275, 2365, 2444), (2506, 2596, 2675)):
    arc = Path([(x0, 118), (xp, 26), (x1, 118)], [Path.MOVETO, Path.CURVE3, Path.CURVE3])
    over.add_patch(PathPatch(arc, fill=False, edgecolor='#FFF68F', linewidth=1.4))

# left handle and bottom right icon
over.add_patch(FancyBboxPatch((-10, 1561), 31, 62, boxstyle='round,pad=0,rounding_size=7', fill=False,
                              edgecolor=SEP, linewidth=0.8))
stroke([7, 12, 7], [1586, 1592, 1598], lw=0.6)
stroke([3099, 3127], [1675, 1675])
stroke([3099, 3127], [1701, 1701])
stroke([3113, 3113], [1680, 1696])
stroke([3108, 3113, 3118], [1684, 1680, 1684])
stroke([3108, 3113, 3118], [1692, 1696, 1692])

fig.savefig('out.png', dpi=200, facecolor=BG)
